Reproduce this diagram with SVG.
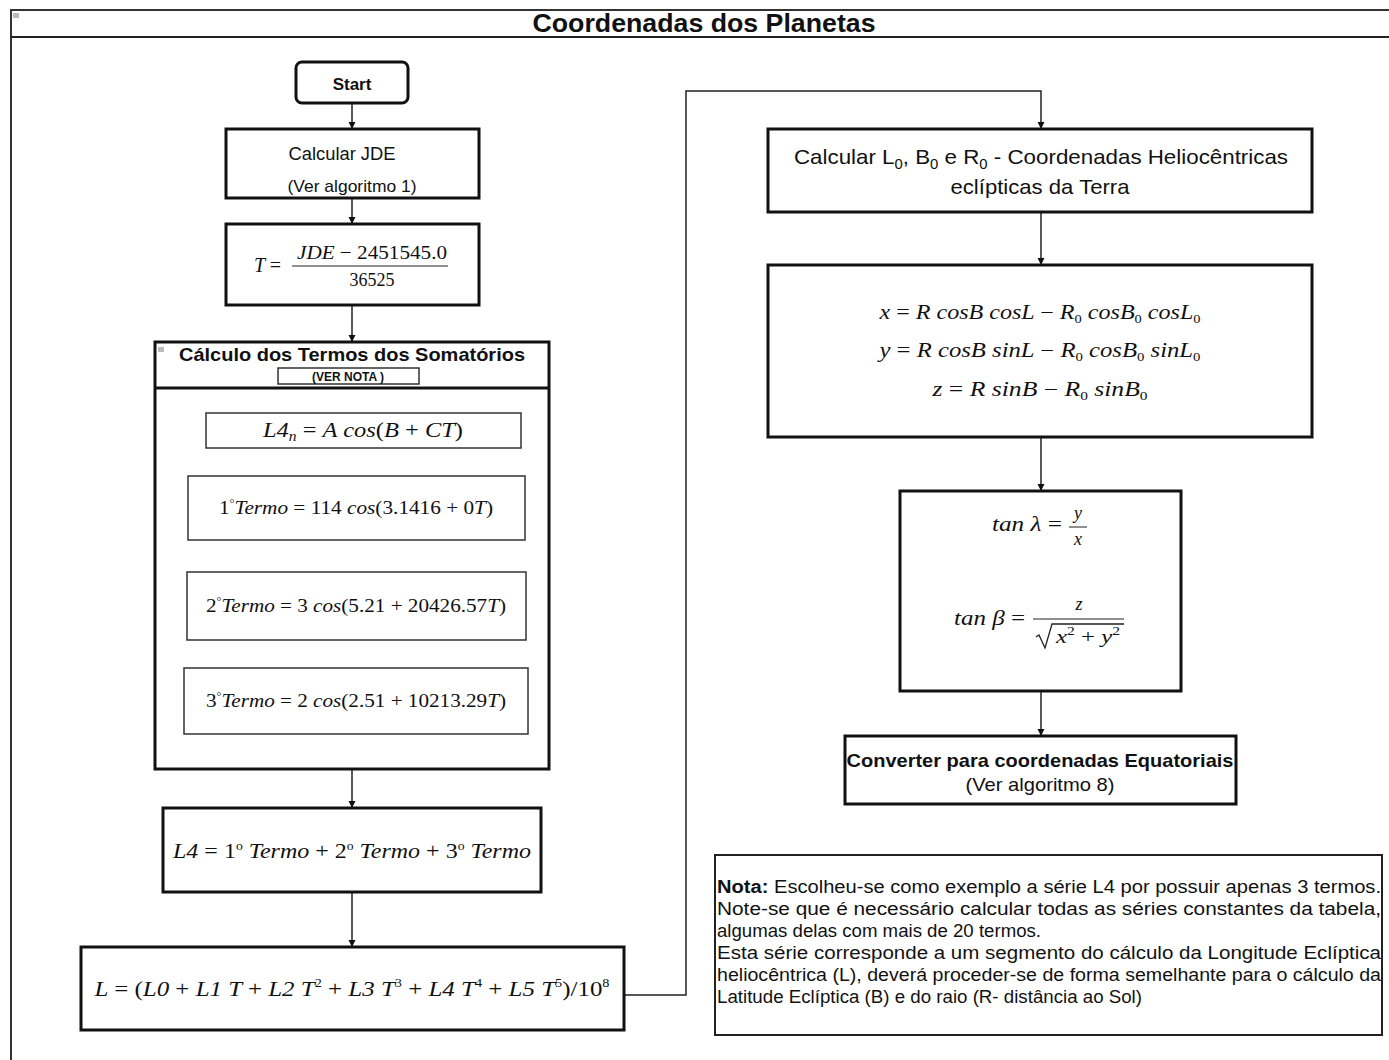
<svg xmlns="http://www.w3.org/2000/svg" width="1389" height="1060" viewBox="0 0 1389 1060">
<style>
.box{fill:#fff;stroke:#111;stroke-width:3}
.thin{fill:#fff;stroke:#333;stroke-width:1.5}
.sans{font-family:"Liberation Sans",Arial,sans-serif;fill:#111}
.math{font-family:"Liberation Serif","Times New Roman",serif;fill:#111;font-style:italic}
.up{font-style:normal}
.edge{fill:none;stroke:#222;stroke-width:1.5}
</style>
<defs>
<marker id="arr" markerWidth="8" markerHeight="8" refX="7" refY="4" orient="auto" markerUnits="userSpaceOnUse">
<path d="M0,0.5 L7,4 L0,7.5 Z" fill="#111"/>
</marker>
</defs>
<rect width="1389" height="1060" fill="#fff"/>
<g id="frame">
<path d="M11,1060 V10 H1389" fill="none" stroke="#333" stroke-width="2"/>
<line x1="11" y1="37" x2="1389" y2="37" stroke="#222" stroke-width="2"/>
<rect x="13" y="13" width="6" height="5" fill="#bbb"/>
<text x="704" y="32" text-anchor="middle" class="sans" font-size="26" font-weight="bold" textLength="343" lengthAdjust="spacingAndGlyphs">Coordenadas dos Planetas</text>
</g>
<g id="connectors">
<line class="edge" x1="352" y1="103" x2="352" y2="129" marker-end="url(#arr)"/>
<line class="edge" x1="352" y1="198" x2="352" y2="224" marker-end="url(#arr)"/>
<line class="edge" x1="352" y1="305" x2="352" y2="342" marker-end="url(#arr)"/>
<line class="edge" x1="356" y1="540" x2="356" y2="572" marker-end="url(#arr)"/>
<line class="edge" x1="356" y1="640" x2="356" y2="668" marker-end="url(#arr)"/>
<line class="edge" x1="352" y1="769" x2="352" y2="808" marker-end="url(#arr)"/>
<line class="edge" x1="352" y1="892" x2="352" y2="947" marker-end="url(#arr)"/>
<path class="edge" d="M624,995 H686 V91 H1041 V129" marker-end="url(#arr)"/>
<line class="edge" x1="1041" y1="212" x2="1041" y2="265" marker-end="url(#arr)"/>
<line class="edge" x1="1041" y1="437" x2="1041" y2="491" marker-end="url(#arr)"/>
<line class="edge" x1="1041" y1="691" x2="1041" y2="736" marker-end="url(#arr)"/>
</g>
<g id="start">
<rect x="296" y="62" width="112" height="41" rx="6" class="box"/>
<text x="352" y="90" text-anchor="middle" class="sans" font-size="17" font-weight="bold">Start</text>
</g>
<g id="jde">
<rect x="226" y="129" width="253" height="69" class="box"/>
<text x="342" y="160" text-anchor="middle" class="sans" font-size="17.5" textLength="107" lengthAdjust="spacingAndGlyphs">Calcular JDE</text>
<text x="352" y="192" text-anchor="middle" class="sans" font-size="17" textLength="129" lengthAdjust="spacingAndGlyphs">(Ver algoritmo 1)</text>
</g>
<g id="t-formula">
<rect x="226" y="224" width="253" height="81" class="box"/>
<text x="254" y="272" class="math" font-size="20">T <tspan class="up">=</tspan></text>
<text x="372" y="259" text-anchor="middle" class="math" font-size="19" textLength="150" lengthAdjust="spacingAndGlyphs">JDE <tspan class="up">− 2451545.0</tspan></text>
<line x1="292" y1="266" x2="448" y2="266" stroke="#222" stroke-width="1"/>
<text x="372" y="286" text-anchor="middle" class="math up" font-size="18">36525</text>
</g>
<g id="calculo">
<rect x="155" y="342" width="394" height="427" class="box"/>
<line x1="155" y1="388" x2="549" y2="388" stroke="#111" stroke-width="3"/>
<rect x="158" y="347" width="6" height="5" fill="#bbb"/>
<text x="352" y="361" text-anchor="middle" class="sans" font-size="19" font-weight="bold" textLength="346" lengthAdjust="spacingAndGlyphs">Cálculo dos Termos dos Somatórios</text>
<rect x="278" y="368" width="141" height="16" fill="#fff" stroke="#333" stroke-width="1.5"/>
<text x="348" y="381" text-anchor="middle" class="sans" font-size="12" font-weight="bold">(VER NOTA )</text>
</g>
<g id="l4n">
<rect x="206" y="413" width="315" height="35" class="thin"/>
<text x="363" y="437" text-anchor="middle" class="math" font-size="22" textLength="200" lengthAdjust="spacingAndGlyphs">L4<tspan font-size="14" dy="4">n</tspan><tspan dy="-4" class="up"> = </tspan>A cos<tspan class="up">(</tspan>B <tspan class="up">+</tspan> CT<tspan class="up">)</tspan></text>
</g>
<g id="termo1">
<rect x="188" y="476" width="337" height="64" class="thin"/>
<text x="356" y="514" text-anchor="middle" class="math" font-size="19" textLength="274" lengthAdjust="spacingAndGlyphs"><tspan class="up">1</tspan><tspan class="up" font-size="11" dy="-7">°</tspan><tspan dy="7">Termo </tspan><tspan class="up">= 114 </tspan>cos<tspan class="up">(3.1416 + 0</tspan>T<tspan class="up">)</tspan></text>
</g>
<g id="termo2">
<rect x="187" y="572" width="339" height="68" class="thin"/>
<text x="356" y="612" text-anchor="middle" class="math" font-size="19" textLength="300" lengthAdjust="spacingAndGlyphs"><tspan class="up">2</tspan><tspan class="up" font-size="11" dy="-7">°</tspan><tspan dy="7">Termo </tspan><tspan class="up">= 3 </tspan>cos<tspan class="up">(5.21 + 20426.57</tspan>T<tspan class="up">)</tspan></text>
</g>
<g id="termo3">
<rect x="184" y="668" width="344" height="66" class="thin"/>
<text x="356" y="707" text-anchor="middle" class="math" font-size="19" textLength="300" lengthAdjust="spacingAndGlyphs"><tspan class="up">3</tspan><tspan class="up" font-size="11" dy="-7">°</tspan><tspan dy="7">Termo </tspan><tspan class="up">= 2 </tspan>cos<tspan class="up">(2.51 + 10213.29</tspan>T<tspan class="up">)</tspan></text>
</g>
<g id="l4">
<rect x="163" y="808" width="378" height="84" class="box"/>
<text x="352" y="858" text-anchor="middle" class="math" font-size="21" textLength="358" lengthAdjust="spacingAndGlyphs">L4 <tspan class="up">= 1</tspan><tspan class="up" font-size="12" dy="-8">o</tspan><tspan dy="8"> Termo </tspan><tspan class="up">+ 2</tspan><tspan class="up" font-size="12" dy="-8">o</tspan><tspan dy="8"> Termo </tspan><tspan class="up">+ 3</tspan><tspan class="up" font-size="12" dy="-8">o</tspan><tspan dy="8"> Termo</tspan></text>
</g>
<g id="l-formula">
<rect x="81" y="947" width="543" height="83" class="box"/>
<text x="352" y="996" text-anchor="middle" class="math" font-size="21" textLength="515" lengthAdjust="spacingAndGlyphs">L <tspan class="up">= (</tspan>L0 <tspan class="up">+</tspan> L1 T <tspan class="up">+</tspan> L2 T<tspan class="up" font-size="12" dy="-9">2</tspan><tspan dy="9" class="up"> + </tspan>L3 T<tspan class="up" font-size="12" dy="-9">3</tspan><tspan dy="9" class="up"> + </tspan>L4 T<tspan class="up" font-size="12" dy="-9">4</tspan><tspan dy="9" class="up"> + </tspan>L5 T<tspan class="up" font-size="12" dy="-9">5</tspan><tspan dy="9" class="up">)/10</tspan><tspan class="up" font-size="12" dy="-9">8</tspan></text>
</g>
<g id="helio">
<rect x="768" y="129" width="544" height="83" class="box"/>
<text x="1041" y="164" text-anchor="middle" class="sans" font-size="21" fill="#222" textLength="494" lengthAdjust="spacingAndGlyphs">Calcular L<tspan font-size="14" dy="5">0</tspan><tspan dy="-5">, B</tspan><tspan font-size="14" dy="5">0</tspan><tspan dy="-5"> e R</tspan><tspan font-size="14" dy="5">0</tspan><tspan dy="-5"> - Coordenadas Heliocêntricas</tspan></text>
<text x="1040" y="194" text-anchor="middle" class="sans" font-size="21" fill="#222" textLength="179" lengthAdjust="spacingAndGlyphs">eclípticas da Terra</text>
</g>
<g id="xyz">
<rect x="768" y="265" width="544" height="172" class="box"/>
<text x="1040" y="319" text-anchor="middle" class="math" font-size="20" textLength="321" lengthAdjust="spacingAndGlyphs">x <tspan class="up">=</tspan> R cosB cosL <tspan class="up">−</tspan> R<tspan class="up" font-size="12" dy="4">0</tspan><tspan dy="-4"> cosB</tspan><tspan class="up" font-size="12" dy="4">0</tspan><tspan dy="-4"> cosL</tspan><tspan class="up" font-size="12" dy="4">0</tspan></text>
<text x="1040" y="357" text-anchor="middle" class="math" font-size="20" textLength="321" lengthAdjust="spacingAndGlyphs">y <tspan class="up">=</tspan> R cosB sinL <tspan class="up">−</tspan> R<tspan class="up" font-size="12" dy="4">0</tspan><tspan dy="-4"> cosB</tspan><tspan class="up" font-size="12" dy="4">0</tspan><tspan dy="-4"> sinL</tspan><tspan class="up" font-size="12" dy="4">0</tspan></text>
<text x="1040" y="396" text-anchor="middle" class="math" font-size="20" textLength="215" lengthAdjust="spacingAndGlyphs">z <tspan class="up">=</tspan> R sinB <tspan class="up">−</tspan> R<tspan class="up" font-size="12" dy="4">0</tspan><tspan dy="-4"> sinB</tspan><tspan class="up" font-size="12" dy="4">0</tspan></text>
</g>
<g id="tan">
<rect x="900" y="491" width="281" height="200" class="box"/>
<text x="1062" y="531" text-anchor="end" class="math" font-size="21" textLength="70" lengthAdjust="spacingAndGlyphs">tan λ <tspan class="up">=</tspan></text>
<text x="1078" y="519" text-anchor="middle" class="math" font-size="18">y</text>
<line x1="1069" y1="527" x2="1087" y2="527" stroke="#222" stroke-width="1"/>
<text x="1078" y="545" text-anchor="middle" class="math" font-size="18">x</text>
<text x="1025" y="625" text-anchor="end" class="math" font-size="21" textLength="71" lengthAdjust="spacingAndGlyphs">tan β <tspan class="up">=</tspan></text>
<text x="1079" y="610" text-anchor="middle" class="math" font-size="18">z</text>
<line x1="1033" y1="619" x2="1124" y2="619" stroke="#222" stroke-width="1"/>
<path d="M1036,637 l3,-2 l6,13 l7,-24 H1124" fill="none" stroke="#222" stroke-width="1.3"/>
<text x="1088" y="643" text-anchor="middle" class="math" font-size="19" textLength="64" lengthAdjust="spacingAndGlyphs">x<tspan class="up" font-size="12" dy="-8">2</tspan><tspan class="up" dy="8"> + </tspan>y<tspan class="up" font-size="12" dy="-8">2</tspan></text>
</g>
<g id="converter">
<rect x="845" y="736" width="391" height="68" class="box"/>
<text x="1040" y="767" text-anchor="middle" class="sans" font-size="19" font-weight="bold" textLength="387" lengthAdjust="spacingAndGlyphs">Converter para coordenadas Equatoriais</text>
<text x="1040" y="791" text-anchor="middle" class="sans" font-size="19" fill="#222" textLength="149" lengthAdjust="spacingAndGlyphs">(Ver algoritmo 8)</text>
</g>
<g id="nota">
<rect x="715" y="855" width="667" height="180" fill="#fff" stroke="#222" stroke-width="2"/>
<g class="sans" font-size="17.5" fill="#222">
<text x="717" y="893" textLength="664" lengthAdjust="spacingAndGlyphs"><tspan font-weight="bold" fill="#111">Nota:</tspan> Escolheu-se como exemplo a série L4 por possuir apenas 3 termos.</text>
<text x="717" y="915" textLength="664" lengthAdjust="spacingAndGlyphs">Note-se que é necessário calcular todas as séries constantes da tabela,</text>
<text x="717" y="937" textLength="324" lengthAdjust="spacingAndGlyphs">algumas delas com mais de 20 termos.</text>
<text x="717" y="959" textLength="664" lengthAdjust="spacingAndGlyphs">Esta série corresponde a um segmento do cálculo da Longitude Eclíptica</text>
<text x="717" y="981" textLength="664" lengthAdjust="spacingAndGlyphs">heliocêntrica (L), deverá proceder-se de forma semelhante para o cálculo da</text>
<text x="717" y="1003" textLength="425" lengthAdjust="spacingAndGlyphs">Latitude Eclíptica (B) e do raio (R- distância ao Sol)</text>
</g>
</g>
</svg>
